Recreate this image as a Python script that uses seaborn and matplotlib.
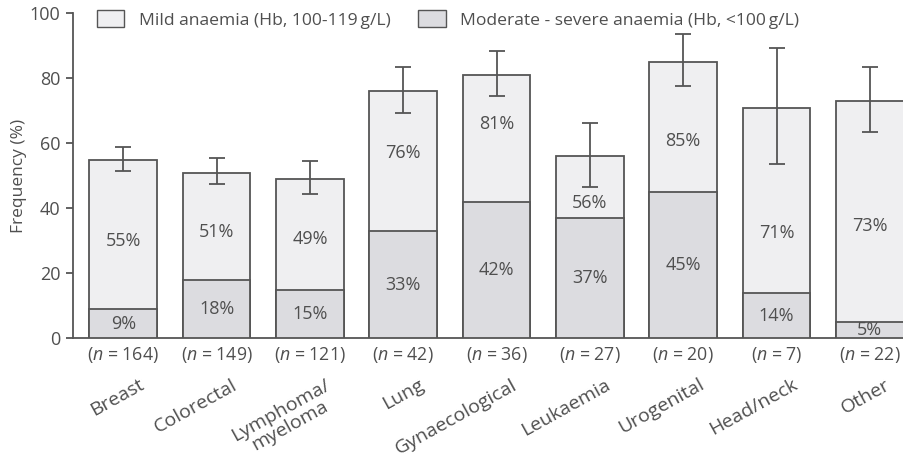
import matplotlib
matplotlib.use("Agg")
import matplotlib.pyplot as plt
import matplotlib.transforms as mtransforms
from matplotlib.patches import Patch
import seaborn as sns
import pandas as pd

# Cancer type, sample size and anaemia frequencies (%)
categories = ["Breast", "Colorectal", "Lymphoma/\nmyeloma", "Lung", "Gynaecological",
              "Leukaemia", "Urogenital", "Head/neck", "Other"]
n_patients = [164, 149, 121, 42, 36, 27, 20, 7, 22]
any_anaemia = [55, 51, 49, 76, 81, 56, 85, 71, 73]          # mild + moderate/severe
moderate_severe = [9, 18, 15, 33, 42, 37, 45, 14, 5]
ci_low = [51.5, 47.5, 44.5, 69.4, 74.6, 46.5, 77.6, 53.5, 63.5]
ci_high = [59.0, 55.5, 54.5, 83.4, 88.5, 66.3, 93.5, 89.4, 83.5]
# heights at which the percentage of the total bar is printed
total_label_y = [29.9, 32.6, 30.5, 57, 66, 41.6, 60.8, 32.4, 34.5]

mild_label = "Mild anaemia (Hb, 100-119\u2009g/L)"
moderate_label = "Moderate - severe anaemia (Hb, <100\u2009g/L)"

TEXT = "#4f4f4f"
EDGE = "#555555"
MILD_FILL = "#efeff1"
MOD_FILL = "#dcdce0"
FONT = "Open Sans"
FS = 12.6

sns.set_style("ticks")
plt.rcParams["font.family"] = [FONT, "DejaVu Sans"]
plt.rcParams["mathtext.fontset"] = "custom"
plt.rcParams["mathtext.it"] = f"{FONT}:italic"
plt.rcParams["mathtext.rm"] = FONT
plt.rcParams["text.color"] = TEXT
plt.rcParams["axes.labelcolor"] = TEXT
plt.rcParams["xtick.color"] = EDGE
plt.rcParams["ytick.color"] = EDGE

df = pd.DataFrame({"category": categories, "total": any_anaemia,
                   "moderate": moderate_severe})

fig = plt.figure(figsize=(9.04, 4.59), dpi=100)
ax = fig.add_axes([0.0805, 0.263, 0.9195, 0.708])

bar_w = 0.725
sns.barplot(data=df, x="category", y="total", color=MILD_FILL, saturation=1,
            edgecolor=EDGE, linewidth=1.3, width=bar_w, ax=ax, zorder=2)
sns.barplot(data=df, x="category", y="moderate", color=MOD_FILL, saturation=1,
            edgecolor=EDGE, linewidth=1.3, width=bar_w, ax=ax, zorder=3)

xs = list(range(len(categories)))
lower = [t - lo for t, lo in zip(any_anaemia, ci_low)]
upper = [hi - t for t, hi in zip(any_anaemia, ci_high)]
ax.errorbar(xs, any_anaemia, yerr=[lower, upper], fmt="none", ecolor=EDGE,
            elinewidth=1.3, capsize=6, capthick=1.3, zorder=4)

for x, tot, mod, ty in zip(xs, any_anaemia, moderate_severe, total_label_y):
    ax.text(x, ty, f"{tot}%", ha="center", va="center", fontsize=13,
            color=TEXT, zorder=5)
    ax.text(x, mod / 2, f"{mod}%", ha="center", va="center", fontsize=13,
            color=TEXT, zorder=5)

ax.set_xlim(-0.541, 8.366)
ax.set_ylim(0, 100)
ax.set_yticks([0, 20, 40, 60, 80, 100])
ax.tick_params(axis="y", labelsize=13, length=5, width=1.3, pad=4,
               labelcolor=TEXT)
ax.set_xticks(xs)
ax.set_xticklabels([f"($\\it{{n}}$ = {n})" for n in n_patients])
ax.tick_params(axis="x", length=0, pad=5, labelsize=12.8, labelcolor=TEXT)
ax.set_xlabel("")
ax.set_ylabel("Frequency (%)", fontsize=12.5, labelpad=2)
sns.despine(ax=ax)
for side in ("left", "bottom"):
    ax.spines[side].set_color(EDGE)
    ax.spines[side].set_linewidth(1.3)

# rotated category names under the sample sizes
trans = mtransforms.blended_transform_factory(ax.transData, ax.transAxes)
for x, name in zip(xs, categories):
    ax.text(x + 0.16, -0.115, name, transform=trans, rotation=29,
            rotation_mode="anchor", ha="right", va="top",
            multialignment="center", fontsize=14, color=TEXT, linespacing=0.95)

handles = [Patch(facecolor=MILD_FILL, edgecolor=EDGE, linewidth=1.0),
           Patch(facecolor=MOD_FILL, edgecolor=EDGE, linewidth=1.0)]
fig.legend(handles, [mild_label, moderate_label], loc="center left",
           bbox_to_anchor=(0.107, 0.958), ncol=2, frameon=False,
           fontsize=FS, handlelength=1.57, handleheight=1.12,
           handletextpad=0.84, columnspacing=1.57, borderaxespad=0,
           borderpad=0, labelcolor=TEXT)

fig.savefig("out.png", dpi=100)
